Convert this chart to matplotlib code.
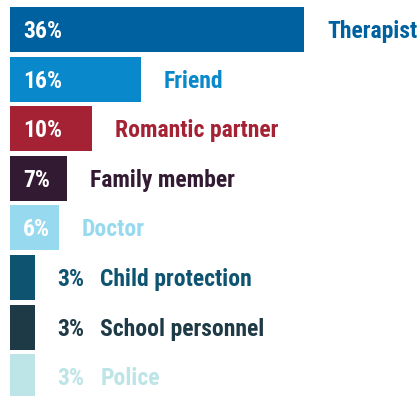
import matplotlib
matplotlib.use("Agg")
import matplotlib.pyplot as plt
from matplotlib import font_manager
from matplotlib.font_manager import FontProperties

categories = ["Therapist", "Friend", "Romantic partner", "Family member",
              "Doctor", "Child protection", "School personnel", "Police"]
values = [36, 16, 10, 7, 6, 3, 3, 3]
colors = ["#0061A0", "#0989CB", "#A52235", "#331A33",
          "#97D9EE", "#0E5471", "#1E3A46", "#BDE4E6"]


def pick_condensed_bold():
    files = set(font_manager.findSystemFonts()) | {f.fname for f in font_manager.fontManager.ttflist}
    prefs = ["robotocondensed-bold.", "notosans-condensedbold.", "opensans-condensedbold.",
             "opensans_condensed-bold.", "liberationsansnarrow-bold.", "dejavusanscondensed-bold."]
    low = {p.lower().replace("\\", "/").split("/")[-1]: p for p in files}
    for key in prefs:
        for name, path in low.items():
            if name.startswith(key):
                return path
    for name, path in low.items():
        if ("condensed" in name or "narrow" in name) and "bold" in name and "oblique" not in name and "italic" not in name:
            return path
    return None


cond_path = pick_condensed_bold()

W, H, DPI = 419, 396, 100
fig = plt.figure(figsize=(W / DPI, H / DPI), dpi=DPI)
ax = fig.add_axes([0, 0, 1, 1])

px_per_unit = 294 / 36
left_px = 10
pitch = 49.6
first_center = 29.5
ax.set_xlim(-left_px / px_per_unit, (W - left_px) / px_per_unit)
ax.set_ylim((H - first_center) / pitch, -first_center / pitch)
ax.axis("off")

ypos = list(range(len(values)))
ax.barh(ypos, values, height=45 / pitch, color=colors, left=0)

if cond_path:
    fp = FontProperties(fname=cond_path, size=17)
else:
    fp = FontProperties(family="DejaVu Sans", weight="bold", size=14)

base_dy = -8.5
gap = 23
for y, v, c, name in zip(ypos, values, colors, categories):
    pct = f"{v}%"
    if v >= 6:
        ax.annotate(pct, (0, y), xytext=(13, base_dy), textcoords="offset pixels",
                    color="white", va="baseline", ha="left", fontproperties=fp)
        ax.annotate(name, (v, y), xytext=(gap, base_dy), textcoords="offset pixels",
                    color=c, va="baseline", ha="left", fontproperties=fp)
    else:
        ax.annotate(pct, (v, y), xytext=(gap, base_dy), textcoords="offset pixels",
                    color=c, va="baseline", ha="left", fontproperties=fp)
        ax.annotate(name, (v, y), xytext=(gap + 43, base_dy), textcoords="offset pixels",
                    color=c, va="baseline", ha="left", fontproperties=fp)

fig.savefig("out.png", dpi=DPI)
